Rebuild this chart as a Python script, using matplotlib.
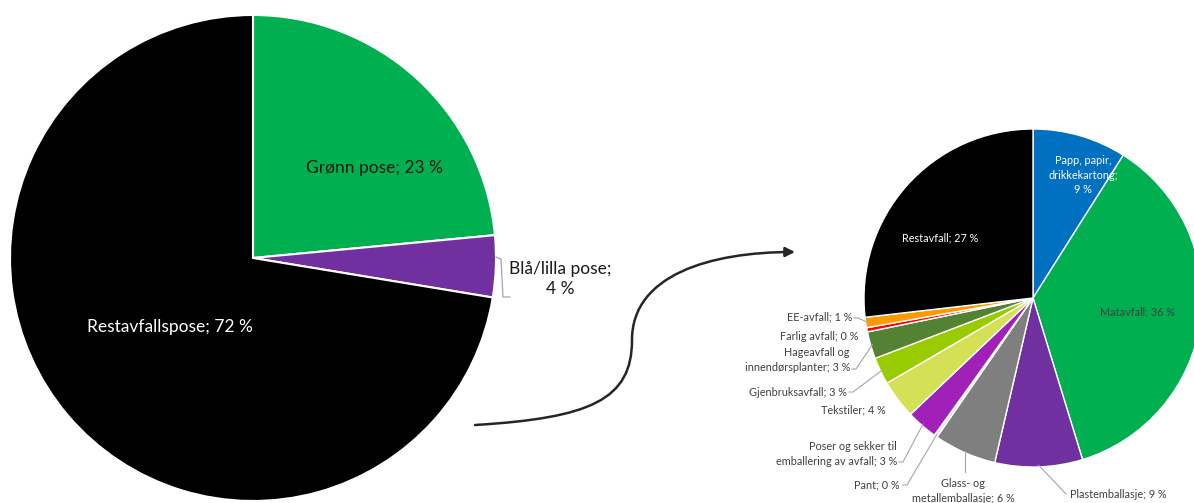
import numpy as np
import matplotlib
matplotlib.use("Agg")
import matplotlib.pyplot as plt
from matplotlib.path import Path
from matplotlib.patches import FancyArrowPatch

W, H = 1194, 503

# left pie: bag types
bag_labels = ["Grønn pose", "Blå/lilla pose", "Restavfallspose"]
bag_values = [23.5, 4.1, 72.4]
bag_pct = [23, 4, 72]
bag_colors = ["#00B050", "#7030A0", "#000000"]

# right pie: content of the residual waste bag
waste_labels = ["Papp, papir,\ndrikkekartong;", "Matavfall", "Plastemballasje",
                "Glass- og\nmetallemballasje", "Pant", "Poser og sekker til\nemballering av avfall",
                "Tekstiler", "Gjenbruksavfall", "Hageavfall og\ninnendørsplanter",
                "Farlig avfall", "EE-avfall", "Restavfall"]
waste_values = [9.0, 36.4, 8.4, 6.0, 0.3, 3.0, 3.7, 2.6, 2.6, 0.4, 1.0, 26.9]
waste_pct = [9, 36, 9, 6, 0, 3, 4, 3, 3, 0, 1, 27]
waste_colors = ["#0070C0", "#00B050", "#7030A0", "#7F7F7F", "#E4E4E4", "#A020B8",
                "#D4E157", "#99CC00", "#548235", "#FF0000", "#FF9900", "#000000"]

plt.rcParams['font.family'] = ['Lato', 'DejaVu Sans']


def P(x, y):
    # pixel coords (y down) -> data coords (y up)
    return (x, H - y)


fig = plt.figure(figsize=(W / 100, H / 100), dpi=100)
ax = fig.add_axes([0, 0, 1, 1])

left_wedges, _ = ax.pie(bag_values, colors=bag_colors, startangle=90, counterclock=False,
                        center=P(253, 258), radius=243,
                        wedgeprops=dict(edgecolor="white", linewidth=1.5))
right_wedges, _ = ax.pie(waste_values, colors=waste_colors, startangle=90, counterclock=False,
                         center=P(1033, 298), radius=169,
                         wedgeprops=dict(edgecolor="white", linewidth=1.0))

ax.set_xlim(0, W)
ax.set_ylim(0, H)
ax.set_aspect("equal")
ax.axis("off")


def edge_point(w, frac=0.5, rscale=1.0):
    ang = np.deg2rad(w.theta1 + (w.theta2 - w.theta1) * frac)
    cx, cy = w.center
    return cx + w.r * rscale * np.cos(ang), cy + w.r * rscale * np.sin(ang)


# left pie labels
ax.text(*P(375, 168), f"{bag_labels[0]}; {bag_pct[0]} %", ha="center", va="center",
        fontsize=12.5, color="#1a1a1a")
ax.text(*P(170, 327), f"{bag_labels[2]}; {bag_pct[2]} %", ha="center", va="center",
        fontsize=12.5, color="white")
ax.text(*P(560, 279), f"{bag_labels[1]};\n{bag_pct[1]} %", ha="center", va="center",
        fontsize=12.5, color="#1a1a1a", linespacing=1.3)
ex, ey = edge_point(left_wedges[1], 0.65)
ax.plot([ex, ex + 5, ex + 7, ex + 14], [ey, ey - 2, P(0, 297)[1], P(0, 297)[1]],
        color="#a6a6a6", lw=0.9)

# curved arrow between the pies
verts = [P(475, 425), P(590, 418), P(632, 400), P(632, 340),
         P(632, 275), P(710, 252), P(795, 252)]
codes = [Path.MOVETO, Path.CURVE4, Path.CURVE4, Path.CURVE4,
         Path.CURVE4, Path.CURVE4, Path.CURVE4]
arrow = FancyArrowPatch(path=Path(verts, codes), arrowstyle="-|>", mutation_scale=14,
                        lw=1.8, color="#262626")
ax.add_patch(arrow)

# right pie labels inside
ax.text(*P(1083, 175), f"{waste_labels[0]}\n{waste_pct[0]} %", ha="center", va="center",
        fontsize=7.8, color="white", linespacing=1.35)
ax.text(*P(1137, 312), f"{waste_labels[1]}; {waste_pct[1]} %", ha="center", va="center",
        fontsize=7.8, color="#404040")
ax.text(*P(940, 238), f"{waste_labels[11]}; {waste_pct[11]} %", ha="center", va="center",
        fontsize=7.8, color="white")

# right pie labels outside: index, anchor (pixels), alignment, leader start
outside = [
    (10, (852, 317), "right", (854, 318)),
    (9, (858, 336), "right", None),
    (8, (850, 360), "right", (852, 369)),
    (7, (847, 392), "right", (849, 392)),
    (6, (886, 410), "right", None),
    (5, (897, 454), "right", (899, 462)),
    (4, (900, 485), "right", (903, 485)),
    (3, (963, 491), "center", None),
    (2, (1070, 494), "left", (1066, 494)),
]
for idx, (lx, ly), ha, lead in outside:
    ax.text(*P(lx, ly), f"{waste_labels[idx]}; {waste_pct[idx]} %", ha=ha, va="center",
            fontsize=7.8, color="#404040", linespacing=1.35, clip_on=False)
    if lead is not None:
        sx, sy = P(*lead)
        ex, ey = edge_point(right_wedges[idx], 0.5, 0.99)
        if ha == "right":
            ax.plot([sx, sx + 4, ex], [sy, sy, ey], color="#a6a6a6", lw=0.8)
        else:
            ax.plot([sx, ex], [sy, ey], color="#a6a6a6", lw=0.8)

# glass label leader runs straight up to the wedge
gx, gy = edge_point(right_wedges[3], 0.5, 0.99)
ax.plot([gx, gx], [gy, P(0, 472)[1]], color="#a6a6a6", lw=0.8)

fig.savefig("out.png", dpi=100)
